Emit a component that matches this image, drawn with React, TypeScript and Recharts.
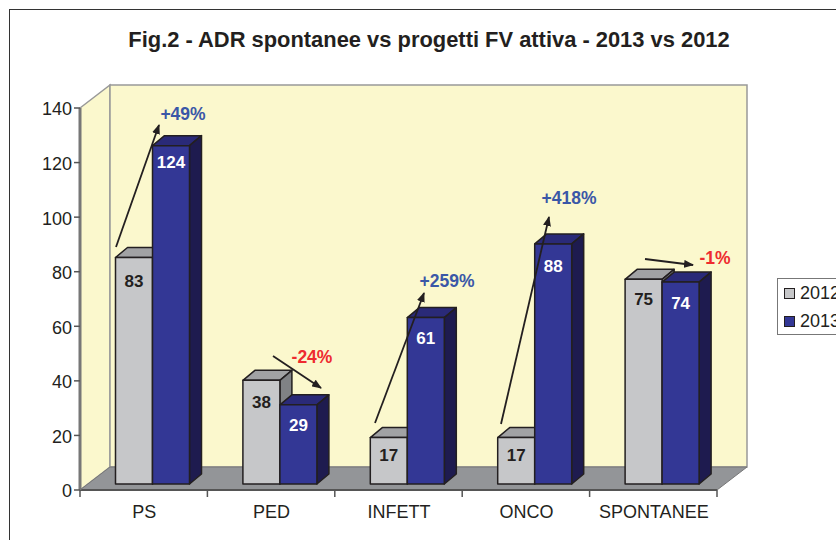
import { BarChart, Bar, XAxis, YAxis, Legend } from 'recharts'

const categories = ['PS', 'PED', 'INFETT', 'ONCO', 'SPONTANEE']
const values2012 = [83, 38, 17, 17, 75]
const values2013 = [124, 29, 61, 88, 74]
const yTicks = [0, 20, 40, 60, 80, 100, 120, 140]
const changeLabels = ['+49%', '-24%', '+259%', '+418%', '-1%']
const changeColors = ['#3a57a7', '#ee2b2f', '#3a57a7', '#3a57a7', '#ee2b2f']

const data = categories.map((name, i) => ({ name, y2012: values2012[i], y2013: values2013[i] }))

const FONT = '"Liberation Sans", Arial, sans-serif'
const W = 836
const H = 540
const LEFT = 80
const RIGHT = 717
const TOP = 108
const BOTTOM = 490
const X_AXIS_H = 30
const DX = 30
const DY = 23
// the front face of each bar sits a bit inside the 3d box
const BAR_DX = 8.5
const BAR_DY = -6
const DEPTH_X = 12
const DEPTH_Y = 10

// the value labels were placed by hand in the original, so they wander a little
const labelShift2012 = [3, 2, -3, -3, 0]
const labelShift2013 = [-4, 0, 0, 2, 1]

// [x1, y1, x2, y2, labelX, labelY]
const arrows = [
  [116, 247, 159, 125, 183, 120],
  [273, 356, 321, 388, 312, 363],
  [375, 423, 424, 293, 447, 287],
  [501, 424, 549, 217, 569, 204],
  [645, 259, 693, 265, 715, 264],
]

function Bar3D(props: any) {
  const { x, y, width, height, value, index, front, top, side, labelColor, shifts } = props
  const l = x + BAR_DX
  const t = y + BAR_DY
  const r = l + width
  const b = t + height
  return (
    <g stroke="#231f20" strokeWidth={1.5} strokeLinejoin="round">
      <polygon points={`${l},${t} ${l + DEPTH_X},${t - DEPTH_Y} ${r + DEPTH_X},${t - DEPTH_Y} ${r},${t}`} fill={top} />
      <polygon points={`${r},${t} ${r + DEPTH_X},${t - DEPTH_Y} ${r + DEPTH_X},${b - DEPTH_Y} ${r},${b}`} fill={side} />
      <rect x={l} y={t} width={width} height={height} fill={front} />
      <text x={l + width / 2} y={t + 26 + shifts[index]} textAnchor="middle" stroke="none" fill={labelColor} fontFamily={FONT} fontSize={17} fontWeight="bold">
        {value}
      </text>
    </g>
  )
}

function CategoryTick(props: any) {
  const { x, payload, index } = props
  const step = (RIGHT - LEFT) / categories.length
  return (
    <g>
      <line x1={x - step / 2} x2={x - step / 2} y1={BOTTOM} y2={BOTTOM + 7} stroke="#555" strokeWidth={1.5} />
      {index === categories.length - 1 && (
        <line x1={x + step / 2} x2={x + step / 2} y1={BOTTOM} y2={BOTTOM + 7} stroke="#555" strokeWidth={1.5} />
      )}
      <text x={x + 0.5} y={BOTTOM + 28} textAnchor="middle" fill="#231f20" fontFamily={FONT} fontSize={18}>
        {payload.value}
      </text>
    </g>
  )
}

function ChartLegend() {
  const rows = [
    { label: '2012', color: '#c6c7c9' },
    { label: '2013', color: '#333795' },
  ]
  return (
    <div style={{ width: 90, height: 57, boxSizing: 'border-box', border: '1px solid #777', background: '#fff', fontFamily: FONT, fontSize: 18, color: '#231f20' }}>
      {rows.map((row) => (
        <div key={row.label} style={{ display: 'flex', alignItems: 'center', height: 28, paddingLeft: 6 }}>
          <span style={{ width: 9, height: 9, border: '1.5px solid #231f20', background: row.color, marginRight: 5 }} />
          {row.label}
        </div>
      ))}
    </div>
  )
}

export default function App() {
  return (
    <div style={{ position: 'fixed', left: 0, top: 0, width: W, height: H, overflow: 'hidden', background: '#fff' }}>
      <div style={{ position: 'absolute', left: 9, top: 9, width: W, height: H, border: '1.5px solid #333' }} />
      <div style={{ position: 'absolute', left: 9, width: 840, top: 27, textAlign: 'center', fontFamily: FONT, fontWeight: 'bold', fontSize: 21.9, color: '#231f20' }}>
        Fig.2 - ADR spontanee vs progetti FV attiva - 2013 vs 2012
      </div>
      <BarChart
        width={W}
        height={H}
        data={data}
        margin={{ left: 0, right: W - RIGHT, top: TOP, bottom: H - BOTTOM - X_AXIS_H }}
        barGap={0}
        barSize={37}
        style={{ position: 'absolute', left: 0, top: 0 }}
      >
        <polygon points={`${LEFT},${TOP} ${LEFT + DX},${TOP - DY} ${LEFT + DX},${BOTTOM - DY} ${LEFT},${BOTTOM}`} fill="#fbf8cd" stroke="#999" strokeWidth={1.5} />
        <rect x={LEFT + DX} y={TOP - DY} width={RIGHT - LEFT} height={BOTTOM - TOP} fill="#fbf8cd" stroke="#999" strokeWidth={1.5} />
        <polygon points={`${LEFT},${BOTTOM} ${LEFT + DX},${BOTTOM - DY} ${RIGHT + DX},${BOTTOM - DY} ${RIGHT},${BOTTOM}`} fill="#939598" stroke="#777" />
        <XAxis dataKey="name" height={X_AXIS_H} interval={0} axisLine={{ stroke: '#555', strokeWidth: 2 }} tickLine={false} tick={CategoryTick} />
        <YAxis
          domain={[0, 140]}
          ticks={yTicks}
          width={LEFT}
          axisLine={{ stroke: '#777', strokeWidth: 3 }}
          tickLine={{ stroke: '#555', strokeWidth: 1.5 }}
          tickSize={6}
          tick={{ fill: '#231f20', fontFamily: FONT, fontSize: 18, dy: 1 }}
        />
        <Legend layout="vertical" align="center" verticalAlign="middle" content={ChartLegend} wrapperStyle={{ position: 'absolute', left: 777, top: 278, width: 90 }} />
        <Bar dataKey="y2012" isAnimationActive={false} fill="#c6c7c9" shape={(p: any) => <Bar3D {...p} front="#c6c7c9" top="#a1a2a4" side="#808285" labelColor="#231f20" shifts={labelShift2012} />} />
        <Bar dataKey="y2013" isAnimationActive={false} fill="#333795" shape={(p: any) => <Bar3D {...p} front="#333795" top="#2a2a78" side="#1e1b4f" labelColor="#fff" shifts={labelShift2013} />} />
      </BarChart>
      {/* arrows have to sit above the bars, recharts paints bars last */}
      <svg width={W} height={H} style={{ position: 'absolute', left: 0, top: 0, pointerEvents: 'none' }}>
        <defs>
          <marker id="arrowHead" markerWidth="10" markerHeight="8" refX="9" refY="4" orient="auto" markerUnits="userSpaceOnUse">
            <path d="M0,0 L10,4 L0,8 Z" fill="#231f20" />
          </marker>
        </defs>
        {arrows.map((a, i) => (
          <g key={categories[i]}>
            <line x1={a[0]} y1={a[1]} x2={a[2]} y2={a[3]} stroke="#231f20" strokeWidth={1.8} markerEnd="url(#arrowHead)" />
            <text x={a[4]} y={a[5]} textAnchor="middle" fill={changeColors[i]} fontFamily={FONT} fontSize={17.5} fontWeight="bold">
              {changeLabels[i]}
            </text>
          </g>
        ))}
      </svg>
    </div>
  )
}
